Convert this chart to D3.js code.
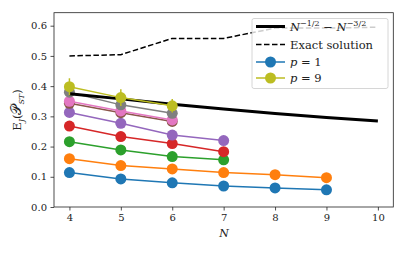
<!DOCTYPE html>
<html>
<head>
<meta charset="utf-8">
<script src="https://cdn.jsdelivr.net/npm/d3@7"></script>
<style>
  body { margin: 0; background: #fff; }
  text { font-family: "DejaVu Serif", "Liberation Serif", serif; fill: #222; }
</style>
</head>
<body>
<div id="chart"></div>
<script>
// system sizes N and expectation values per p
var sizes = [4, 5, 6, 7, 8, 9, 10];
var pLabels = [1, 2, 3, 4, 5, 6, 7, 8, 9];
var pColors = ["#1f77b4", "#ff7f0e", "#2ca02c", "#d62728", "#9467bd",
               "#8c564b", "#e377c2", "#7f7f7f", "#bcbd22"];

var p1 = [0.114, 0.093, 0.080, 0.0695, 0.063, 0.057];
var p2 = [0.160, 0.137, 0.126, 0.114, 0.107, 0.097];
var p3 = [0.216, 0.189, 0.167, 0.156];
var p4 = [0.268, 0.233, 0.210, 0.183];
var p5 = [0.313, 0.277, 0.238, 0.220];
var p6 = [0.343, 0.312, 0.283];
var p7 = [0.350, 0.318, 0.288];
var p8 = [0.380, 0.338, 0.310];
var p9 = [0.398, 0.362, 0.335];
var p9err = [0.028, 0.028, 0.022];

var scaling = [0.375, 0.3578, 0.3402, 0.3240, 0.3094, 0.2963, 0.2846]; // N^-1/2 - N^-3/2
var exact = [0.500, 0.504, 0.558, 0.558, 0.592, 0.592, 0.595];

var yTicks = [0.0, 0.1, 0.2, 0.3, 0.4, 0.5, 0.6];
var xTicks = [4, 5, 6, 7, 8, 9, 10];

var width = 407, height = 253;
var svg = d3.select("#chart").append("svg")
    .attr("width", width).attr("height", height);

var x = d3.scaleLinear().domain([3.7, 10.3]).range([54, 393.3]);
var y = d3.scaleLinear().domain([0, 0.643]).range([207, 12.7]);

var line = d3.line()
    .x(function(d) { return x(d[0]); })
    .y(function(d) { return y(d[1]); });

function pairs(vals) {
    return vals.map(function(v, i) { return [sizes[i], v]; });
}

var series = [p1, p2, p3, p4, p5, p6, p7, p8, p9];

function drawSeries(k) {
    var g = svg.append("g");
    var pts = pairs(series[k]);
    g.append("path")
        .attr("d", line(pts))
        .attr("fill", "none")
        .attr("stroke", pColors[k])
        .attr("stroke-width", 1.5);
    if (k === 8) {
        g.selectAll(".err").data(pts).enter().append("line")
            .attr("x1", function(d) { return x(d[0]); })
            .attr("x2", function(d) { return x(d[0]); })
            .attr("y1", function(d, i) { return y(d[1] - p9err[i]); })
            .attr("y2", function(d, i) { return y(d[1] + p9err[i]); })
            .attr("stroke", pColors[k])
            .attr("stroke-width", 1.5);
    }
    g.selectAll("circle").data(pts).enter().append("circle")
        .attr("cx", function(d) { return x(d[0]); })
        .attr("cy", function(d) { return y(d[1]); })
        .attr("r", 5.5)
        .attr("fill", pColors[k]);
}

for (var k = 0; k < 8; k++) drawSeries(k);

svg.append("path")
    .attr("d", line(pairs(scaling)))
    .attr("fill", "none").attr("stroke", "#000").attr("stroke-width", 3);

svg.append("path")
    .attr("d", line(pairs(exact)))
    .attr("fill", "none").attr("stroke", "#000").attr("stroke-width", 1.5)
    .attr("stroke-dasharray", "5.5,2.5");

drawSeries(8);

// axes
var xAxis = svg.append("g")
    .attr("transform", "translate(0,207)")
    .call(d3.axisBottom(x).tickValues(xTicks).tickSize(3.5).tickPadding(3.5).tickFormat(d3.format("d")));
var yAxis = svg.append("g")
    .attr("transform", "translate(54,0)")
    .call(d3.axisLeft(y).tickValues(yTicks).tickSize(3.5).tickPadding(3.5).tickFormat(d3.format(".1f")));

[xAxis, yAxis].forEach(function(a) {
    a.select(".domain").remove();
    a.selectAll("line").attr("stroke", "#222").attr("stroke-width", 0.8);
    a.selectAll("text").style("font-size", "10px").style("font-family", "DejaVu Serif").attr("fill", "#222");
});

svg.append("rect")
    .attr("x", 54).attr("y", 12.7)
    .attr("width", 393.3 - 54).attr("height", 207 - 12.7)
    .attr("fill", "none").attr("stroke", "#222").attr("stroke-width", 0.8);

// axis labels
svg.append("text")
    .attr("x", 224).attr("y", 237)
    .attr("text-anchor", "middle")
    .style("font-size", "11px").style("font-style", "italic")
    .text("N");

var yl = svg.append("text")
    .attr("transform", "translate(21,110) rotate(-90)")
    .attr("text-anchor", "middle")
    .style("font-size", "11.5px");
yl.append("tspan").text("E");
yl.append("tspan").attr("dy", 2.5).style("font-size", "8px").style("font-style", "italic").text("J");
yl.append("tspan").attr("dy", -2.5).text("(");
yl.append("tspan").style("font-size", "14px").text("\uD835\uDCAB");
yl.append("tspan").attr("dy", 2.5).style("font-size", "8px").style("font-style", "italic").text("ST");
yl.append("tspan").attr("dy", -2.5).text(")");

// legend
var lg = svg.append("g");
lg.append("rect")
    .attr("x", 252).attr("y", 18.5).attr("width", 136).attr("height", 70)
    .attr("rx", 2)
    .attr("fill", "#fff").attr("fill-opacity", 0.8)
    .attr("stroke", "#ccc").attr("stroke-width", 0.8);

var legendItems = [
    { kind: "solid", y: 26.5 },
    { kind: "dash", y: 44.5 },
    { kind: "p", idx: 0, y: 62 },
    { kind: "p", idx: 8, y: 78 }
];

legendItems.forEach(function(it) {
    var row = lg.append("g");
    if (it.kind === "solid") {
        row.append("line").attr("x1", 256).attr("x2", 285).attr("y1", it.y).attr("y2", it.y)
            .attr("stroke", "#000").attr("stroke-width", 3);
        var t = row.append("text").attr("x", 290).attr("y", it.y + 4).style("font-size", "11.5px");
        t.append("tspan").style("font-style", "italic").text("N");
        t.append("tspan").attr("dy", -4.5).style("font-size", "8px").text("\u22121/2");
        t.append("tspan").attr("dy", 4.5).text(" \u2212 ");
        t.append("tspan").style("font-style", "italic").text("N");
        t.append("tspan").attr("dy", -4.5).style("font-size", "8px").text("\u22123/2");
    } else if (it.kind === "dash") {
        row.append("line").attr("x1", 256).attr("x2", 285).attr("y1", it.y).attr("y2", it.y)
            .attr("stroke", "#000").attr("stroke-width", 1.5).attr("stroke-dasharray", "5.5,2.5");
        row.append("text").attr("x", 290).attr("y", it.y + 4).style("font-size", "11.5px")
            .text("Exact solution");
    } else {
        row.append("line").attr("x1", 256).attr("x2", 285).attr("y1", it.y).attr("y2", it.y)
            .attr("stroke", pColors[it.idx]).attr("stroke-width", 1.5);
        row.append("circle").attr("cx", 270.5).attr("cy", it.y).attr("r", 5.5)
            .attr("fill", pColors[it.idx]);
        var t2 = row.append("text").attr("x", 290).attr("y", it.y + 4).style("font-size", "11.5px");
        t2.append("tspan").style("font-style", "italic").text("p");
        t2.append("tspan").text(" = " + pLabels[it.idx]);
    }
});
</script>
</body>
</html>
